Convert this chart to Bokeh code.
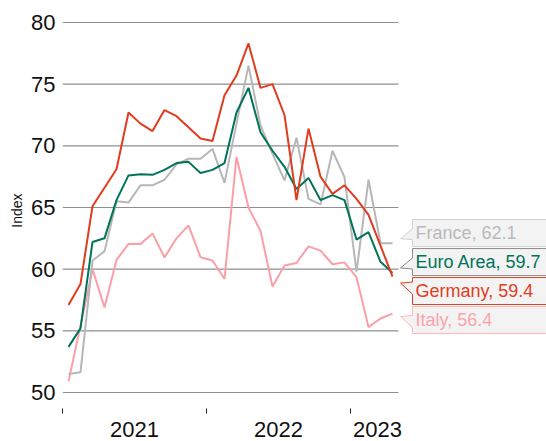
import numpy as np
from bokeh.plotting import figure
from bokeh.models import FixedTicker, Range1d
from bokeh.core.properties import value
from bokeh.embed import file_html
from bokeh.resources import INLINE

# ---------------- data ----------------
months = [f"{y}-{m:02d}" for y in (2021, 2022, 2023) for m in range(1, 13)][:28]

germany = [57.1, 58.8, 65.1, 66.6, 68.1, 72.7, 71.8, 71.2, 72.9, 72.4, 71.5, 70.6, 70.4, 74.1,
           75.7, 78.3, 74.7, 75.0, 72.5, 65.6, 71.4, 67.5, 66.1, 66.8, 65.7, 64.4, 61.9, 59.4]
euro_area = [53.7, 55.2, 62.2, 62.5, 65.6, 67.6, 67.7, 67.65, 68.05, 68.6, 68.7, 67.8, 68.05, 68.6,
             72.7, 74.7, 71.1, 69.6, 68.3, 66.5, 67.4, 65.6, 66.0, 65.6, 62.4, 63.0, 60.6, 59.7]
france = [51.5, 51.65, 60.7, 61.45, 65.5, 65.4, 66.8, 66.8, 67.25, 68.5, 68.95, 68.95, 69.75, 67.0,
          71.8, 76.5, 71.65, 69.35, 67.2, 70.65, 65.7, 65.25, 69.6, 67.45, 59.8, 67.25, 62.1, 62.1]
italy = [50.9, 55.4, 60.0, 56.9, 60.75, 62.05, 62.05, 62.9, 60.95, 62.5, 63.55, 60.97, 60.7, 59.2,
         69.1, 65.0, 63.1, 58.6, 60.3, 60.5, 61.85, 61.5, 60.4, 60.55, 59.35, 55.3, 56.0, 56.4]

series_names = ["Italy", "France", "Euro Area", "Germany"]
series_values = [italy, france, euro_area, germany]
line_colors = ["#fc9ea7", "#b7b7b7", "#00735a", "#e03c1e"]
text_colors = ["#fca3ab", "#b9b9b9", "#00735a", "#e03c1e"]
box_borders = ["#ffb5bb", "#d0d0d0", "#8c8c8c", "#e03c1e"]

y_ticks = [50, 55, 60, 65, 70, 75, 80]
year_labels = ["2021", "2022", "2023"]
year_boundaries = [2021.0, 2022.0, 2023.0]
year_label_pos = [2021.5, 2022.5, 2023.1875]
y_axis_title = "Index"

# ---------------- layout ----------------
W, H = 546, 441
FL, FT, FB = 62, 12, 408         # frame left / top / bottom (figure px)
PXX = 144.0                      # px per year
PXY = 12.333                     # px per index point
Y80 = 22                         # figure px of the 80 gridline

x_start = 2021.0
x_end = x_start + (W - FL) / PXX
y_end = 80 + (Y80 - FT) / PXY
y_start = 80 - (FB - Y80) / PXY


def month_x(m):
    y, mo = m.split("-")
    return int(y) + (int(mo) - 0.5) / 12.0


def px_to_x(px):
    return x_start + (px - FL) / PXX


xs = [month_x(m) for m in months]
x_last_end = int(months[-1][:4]) + int(months[-1][5:]) / 12.0

p = figure(width=W, height=H, output_backend="svg", toolbar_location=None,
           x_range=Range1d(x_start, x_end), y_range=Range1d(y_start, y_end),
           min_border_left=FL, min_border_right=0, min_border_top=FT,
           min_border_bottom=H - FB)
p.outline_line_color = None
p.xgrid.visible = False
p.ygrid.visible = False
p.background_fill_color = "white"
p.border_fill_color = "white"

FONT = "Liberation Sans"

# y axis
ya = p.yaxis[0]
ya.ticker = FixedTicker(ticks=y_ticks)
ya.axis_line_color = None
ya.major_tick_line_color = None
ya.minor_tick_line_color = None
ya.major_tick_out = 0
ya.major_tick_in = 0
ya.major_label_standoff = 7
ya.major_label_text_font = FONT
ya.major_label_text_font_size = "22px"
ya.major_label_text_color = "#111111"
ya.axis_label = y_axis_title
ya.axis_label_text_font = FONT
ya.axis_label_text_font_size = "14px"
ya.axis_label_text_font_style = "normal"
ya.axis_label_text_color = "#111111"
ya.axis_label_standoff = 3

# x axis
xa = p.xaxis[0]
xa.ticker = FixedTicker(ticks=year_label_pos, minor_ticks=year_boundaries)
xa.major_label_overrides = {pos: lab for pos, lab in zip(year_label_pos, year_labels)}
xa.axis_line_color = None
xa.major_tick_line_color = None
xa.major_tick_out = 0
xa.major_tick_in = 0
xa.minor_tick_out = 5
xa.minor_tick_in = 0
xa.minor_tick_line_color = "#222222"
xa.minor_tick_line_width = 1
xa.major_label_standoff = 8
xa.major_label_text_font = FONT
xa.major_label_text_font_size = "22px"
xa.major_label_text_color = "#111111"

# grid lines (only across the data area)
p.segment(x0=[x_start] * len(y_ticks), x1=[x_last_end] * len(y_ticks),
          y0=y_ticks, y1=y_ticks, line_color="#8f8f8f", line_width=1.2)

# lines
for name, vals, col in zip(series_names, series_values, line_colors):
    p.line(xs, vals, line_color=col, line_width=2)

# ---------------- end labels ----------------
last_vals = [v[-1] for v in series_values]
order = sorted(range(len(last_vals)), key=lambda i: -last_vals[i])
spacing = 29 / PXY
box_h = 27 / PXY

clusters = [[i] for i in order]


def cluster_centers(cl):
    m = np.mean([last_vals[i] for i in cl])
    n = len(cl)
    return [m + ((n - 1) / 2 - k) * spacing for k in range(n)]


merged = True
while merged:
    merged = False
    for k in range(len(clusters) - 1):
        a = cluster_centers(clusters[k])
        b = cluster_centers(clusters[k + 1])
        if a[-1] - b[0] < spacing:
            clusters[k] = clusters[k] + clusters[k + 1]
            del clusters[k + 1]
            merged = True
            break

centers = {}
for cl in clusters:
    for i, c in zip(cl, cluster_centers(cl)):
        centers[i] = c

tip_x = px_to_x(400)
box_x = px_to_x(412)
txt_x = px_to_x(415)
right_x = x_end + 0.5

pxs, pys, fills, borders = [], [], [], []
t_x, t_y, t_txt, t_col = [], [], [], []
for i in order:
    c = centers[i]
    v = last_vals[i]
    tip = c + 0.55 * (v - c)
    top, bot = c + box_h / 2, c - box_h / 2
    if tip < c:   # pointer in lower half
        b_up, b_lo = tip + 10 / PXY, tip - 1 / PXY
    else:
        b_up, b_lo = tip + 1 / PXY, tip - 11 / PXY
    pxs.append([box_x, right_x, right_x, box_x, box_x, tip_x, box_x])
    pys.append([top, top, bot, bot, b_lo, tip, b_up])
    fills.append("#f2f2f2")
    borders.append(box_borders[i])
    t_x.append(txt_x)
    t_y.append(c)
    t_txt.append(f"{series_names[i]}, {v:.1f}")
    t_col.append(text_colors[i])

p.patches(xs=pxs, ys=pys, fill_color=fills, fill_alpha=0.95, line_color=borders, line_width=1)
p.text(x=t_x, y=t_y, text=t_txt, text_color=t_col, text_font=value(FONT),
       text_font_size="18px", text_baseline="middle", text_align="left")

open("out.html", "w").write(file_html(p, INLINE))
